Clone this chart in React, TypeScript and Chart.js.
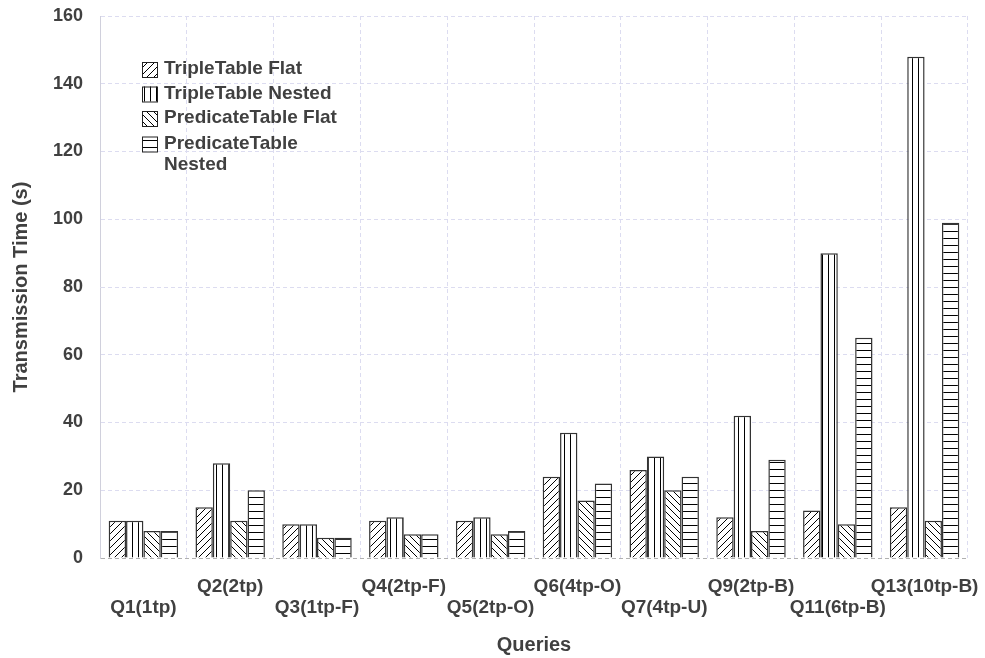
import React, { useEffect, useRef } from "react";
import { Chart, registerables } from "chart.js";

Chart.register(...registerables);

const categories = [
  "Q1(1tp)", "Q2(2tp)", "Q3(1tp-F)", "Q4(2tp-F)", "Q5(2tp-O)",
  "Q6(4tp-O)", "Q7(4tp-U)", "Q9(2tp-B)", "Q11(6tp-B)", "Q13(10tp-B)",
];
const tripleFlat = [11, 15, 10, 11, 11, 24, 26, 12, 14, 15];
const tripleNested = [11, 28, 10, 12, 12, 37, 30, 42, 90, 148];
const predicateFlat = [8, 11, 6, 7, 7, 17, 20, 8, 10, 11];
const predicateNested = [8, 20, 6, 7, 8, 22, 24, 29, 65, 99];
const seriesNames = ["TripleTable Flat", "TripleTable Nested", "PredicateTable Flat", "PredicateTable Nested"];
const yTicks = { min: 0, max: 160, step: 20 };

const FONT = "'Liberation Sans', Arial, sans-serif";
const TEXT = "#404040";
const GRID = "#dcdcf0";

type Kind = "fwd" | "vert" | "back" | "horiz";

function makePattern(kind: Kind): CanvasPattern | string {
  const s = kind === "vert" ? 6 : 7;
  const c = document.createElement("canvas");
  c.width = s;
  c.height = s;
  const g = c.getContext("2d");
  if (!g) return "#fff";
  g.fillStyle = "#ffffff";
  g.fillRect(0, 0, s, s);
  g.strokeStyle = "#000000";
  g.lineWidth = 1;
  g.beginPath();
  if (kind === "fwd") {
    g.moveTo(-1, s + 1); g.lineTo(s + 1, -1);
    g.moveTo(-1, 1); g.lineTo(1, -1);
    g.moveTo(s - 1, s + 1); g.lineTo(s + 1, s - 1);
  } else if (kind === "back") {
    g.moveTo(-1, -1); g.lineTo(s + 1, s + 1);
    g.moveTo(s - 1, -1); g.lineTo(s + 1, 1);
    g.moveTo(-1, s - 1); g.lineTo(1, s + 1);
  } else if (kind === "vert") {
    g.moveTo(0.5, 0); g.lineTo(0.5, s);
  } else {
    g.moveTo(0, 0.5); g.lineTo(s, 0.5);
  }
  g.stroke();
  const p = g.createPattern(c, "repeat");
  return p || "#fff";
}

export default function App() {
  const ref = useRef<HTMLCanvasElement | null>(null);

  useEffect(() => {
    if (!ref.current) return;
    const kinds: Kind[] = ["fwd", "vert", "back", "horiz"];
    const pats = kinds.map((k) => makePattern(k));
    const values = [tripleFlat, tripleNested, predicateFlat, predicateNested];

    const legendPlugin = {
      id: "innerLegend",
      afterDraw(chart: any) {
        const ctx = chart.ctx as CanvasRenderingContext2D;
        const area = chart.chartArea;
        const bx = area.left + 42;
        const tx = area.left + 64;
        const rows = [53, 77.5, 102, 127.5];
        ctx.save();
        ctx.font = `bold 19px ${FONT}`;
        ctx.fillStyle = TEXT;
        ctx.textBaseline = "middle";
        ctx.textAlign = "left";
        rows.forEach((r, i) => {
          const cy = area.top + r;
          ctx.fillStyle = pats[i] as any;
          ctx.fillRect(bx, cy - 7, 15, 15);
          ctx.strokeStyle = "#222";
          ctx.lineWidth = 1;
          ctx.strokeRect(bx + 0.5, cy - 6.5, 15, 15);
          ctx.fillStyle = TEXT;
          if (i === 3) {
            ctx.fillText("PredicateTable", tx, cy);
            ctx.fillText("Nested", tx, cy + 21);
          } else {
            ctx.fillText(seriesNames[i], tx, cy);
          }
        });
        ctx.restore();
      },
    };

    const chart = new Chart(ref.current, {
      type: "bar",
      data: {
        labels: categories,
        datasets: values.map((v, i) => ({
          label: seriesNames[i],
          data: v,
          backgroundColor: pats[i] as any,
          borderColor: "#333333",
          borderWidth: 1.5,
          categoryPercentage: 0.8,
          barPercentage: 1.0,
        })),
      },
      options: {
        animation: false,
        responsive: true,
        maintainAspectRatio: false,
        layout: { padding: { top: 16, right: 17, left: 0, bottom: 0 } },
        plugins: { legend: { display: false }, tooltip: { enabled: false } },
        scales: {
          x: {
            afterFit: (s: any) => { s.height = 100; s.paddingLeft = 0; s.paddingRight = 0; },
            grid: { color: GRID, drawTicks: false, offset: true },
            border: { display: false, dash: [4, 3] },
            ticks: {
              autoSkip: false,
              maxRotation: 0,
              minRotation: 0,
              padding: 18,
              color: TEXT,
              font: { family: FONT, weight: "bold", size: 19, lineHeight: 1.105 },
              callback: (_v: any, idx: number) =>
                idx % 2 === 0 ? ["", categories[idx]] : categories[idx],
            },
            title: {
              display: true,
              text: "Queries",
              color: TEXT,
              font: { family: FONT, weight: "bold", size: 20 },
              padding: { top: 0, bottom: 1 },
            },
          },
          y: {
            min: yTicks.min,
            max: yTicks.max,
            afterFit: (s: any) => { s.width = 100; s.paddingTop = 0; s.paddingBottom = 0; },
            grid: {
              color: (c: any) => (c.tick && c.tick.value === 0 ? "#b0b0b0" : GRID),
              drawTicks: false,
            },
            border: { display: true, color: "#d0d0dc", width: 1, dash: [4, 3] },
            ticks: {
              stepSize: yTicks.step,
              padding: 17,
              color: TEXT,
              font: { family: FONT, weight: "bold", size: 18 },
            },
            title: {
              display: true,
              text: "Transmission Time (s)",
              color: TEXT,
              font: { family: FONT, weight: "bold", size: 20 },
              padding: { top: 9, bottom: 0 },
            },
          },
        },
      },
      plugins: [legendPlugin],
    });
    return () => chart.destroy();
  }, []);

  return (
    <div style={{ position: "absolute", left: 0, top: 0, width: 985, height: 658 }}>
      <canvas ref={ref} />
    </div>
  );
}
